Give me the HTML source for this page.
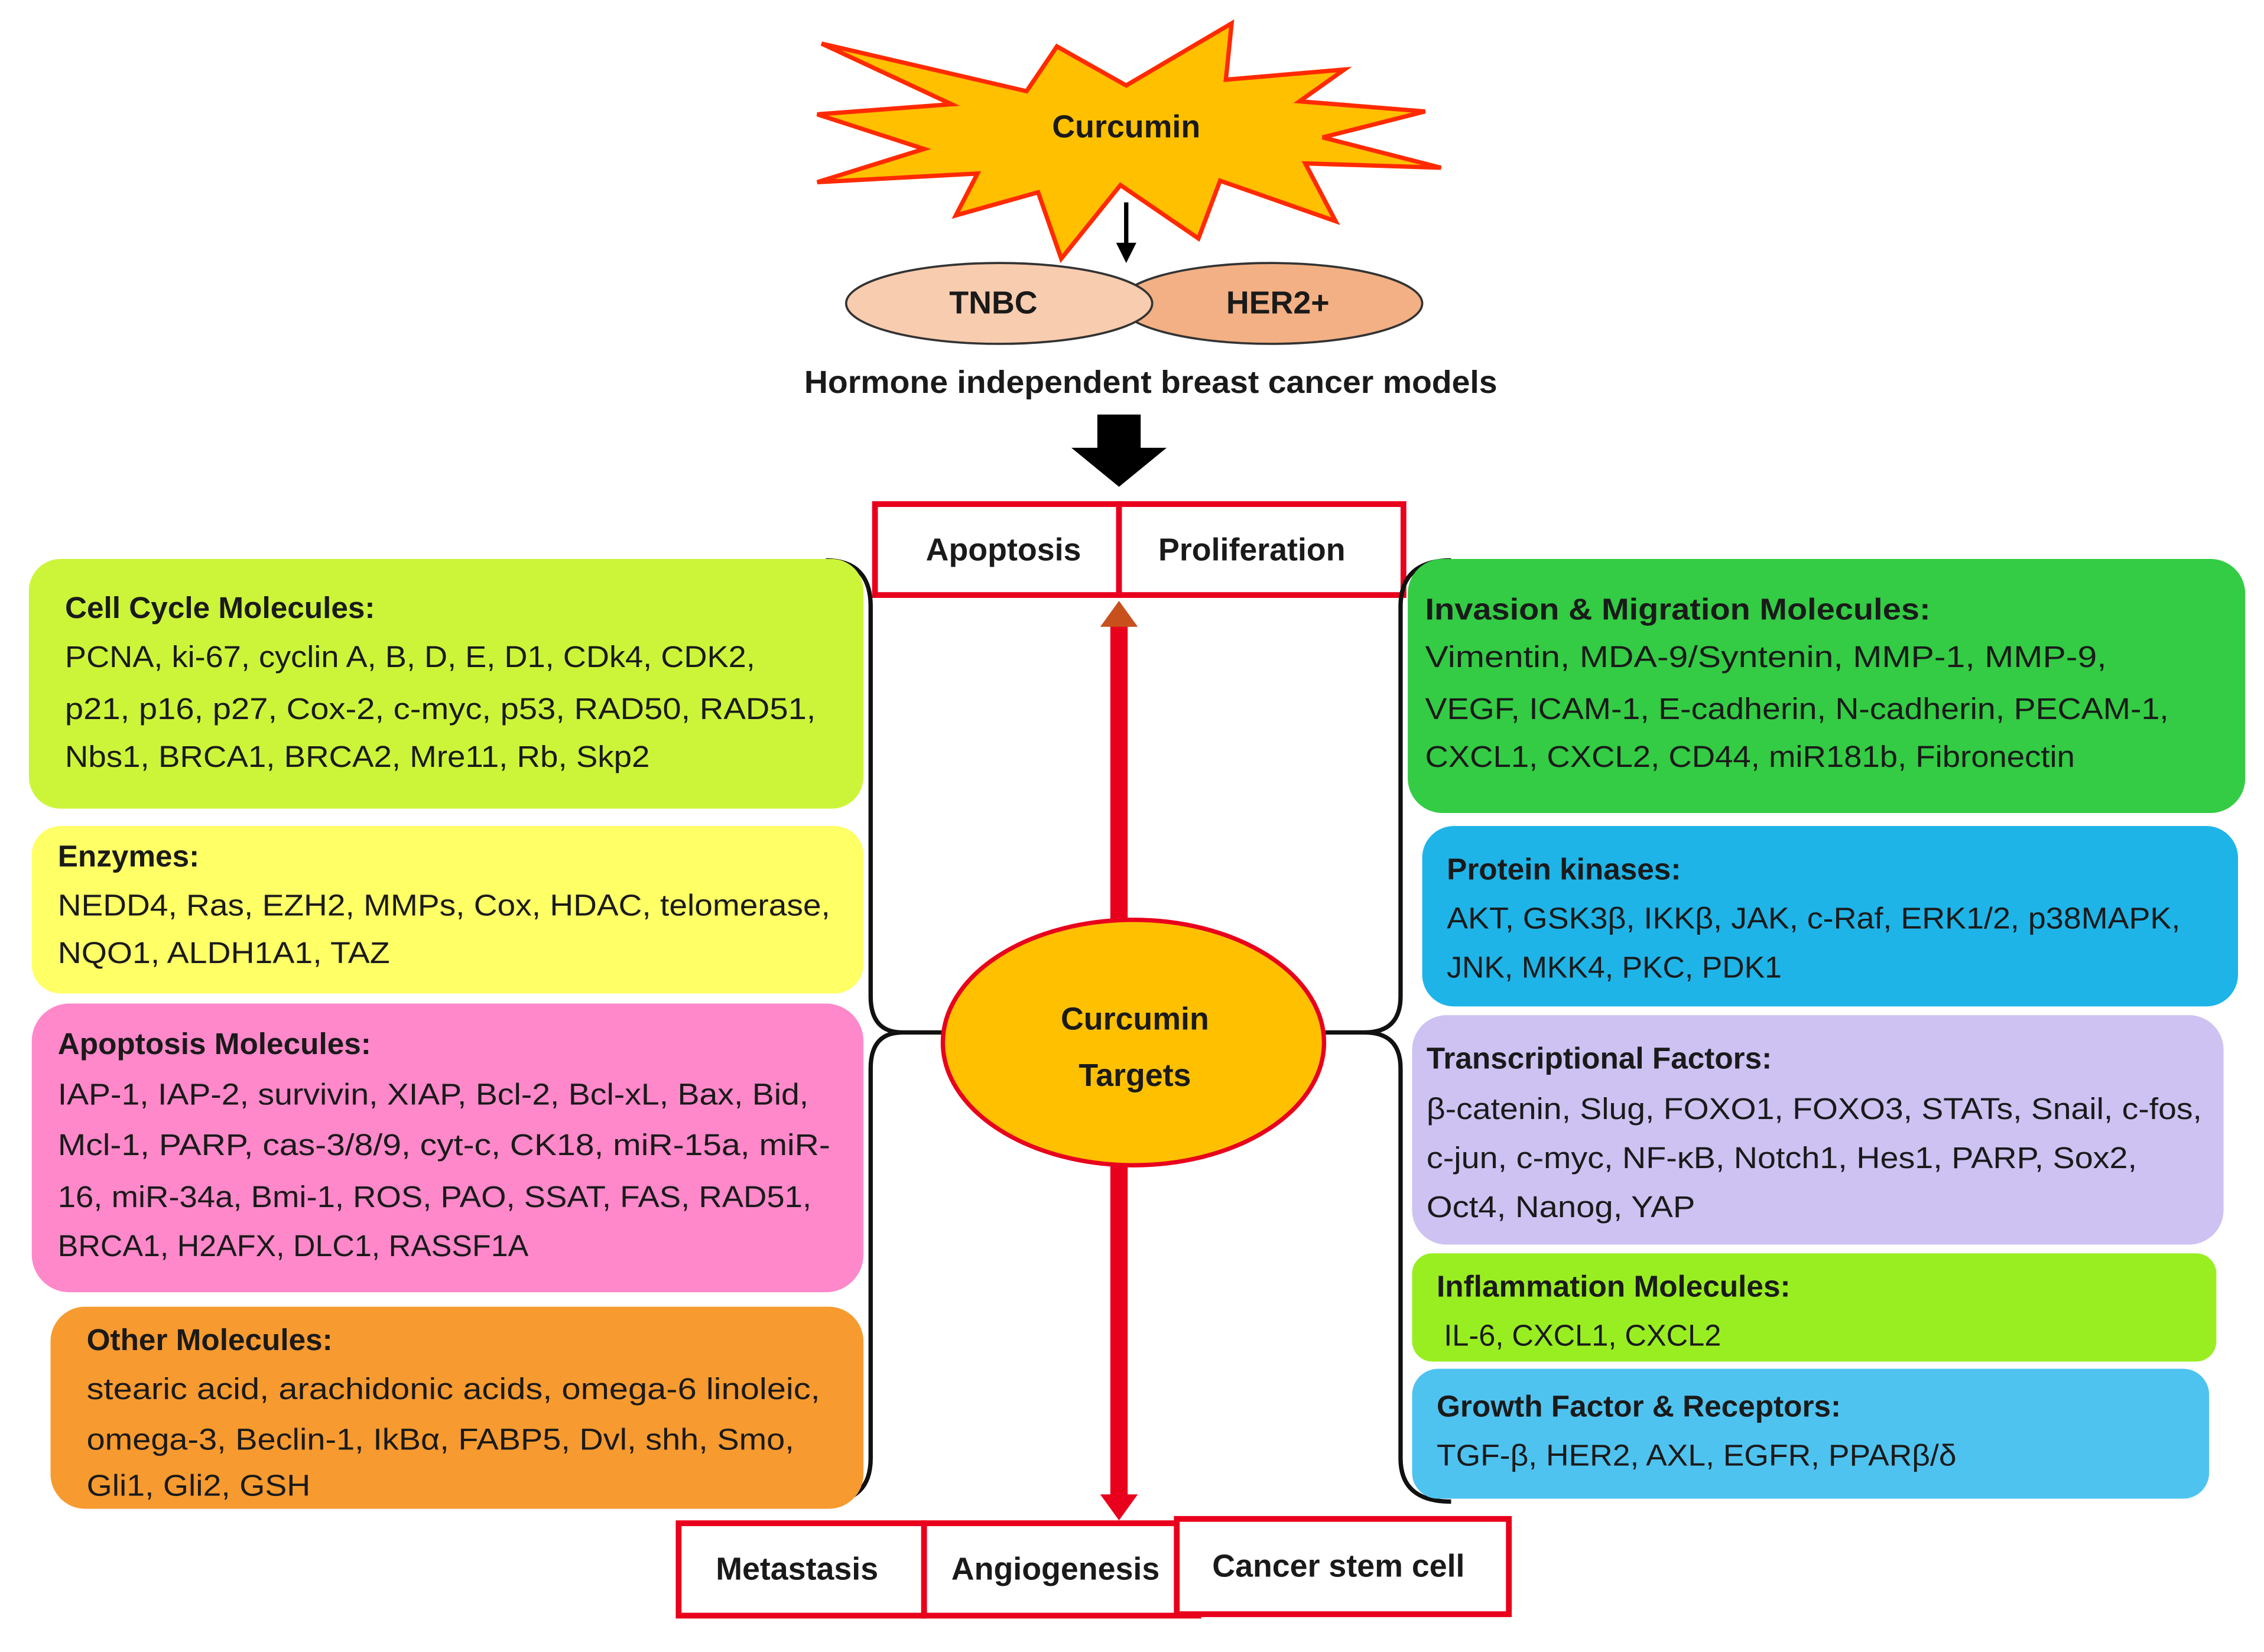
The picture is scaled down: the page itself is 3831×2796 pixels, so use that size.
<!DOCTYPE html>
<html><head><meta charset="utf-8"><style>
html,body{margin:0;padding:0;background:#fff;}
svg{display:block;}
text{font-family:"Liberation Sans",sans-serif;fill:#1a1a1a;}
.h{font-weight:bold;font-size:21px;}
.b{font-size:21px;}
.c{font-weight:bold;font-size:22px;}
</style></head><body>
<svg width="3831" height="2796" viewBox="0 0 1568 1144" xmlns="http://www.w3.org/2000/svg">
<!-- star -->
<polygon points="569,30 711,63 732,32 780,59 853,16 849,55 931,48 900,70 987,77 916,95 998,116 904,113 925,153 845,125 830,165 776,128 735,179 719,133 662,149 677,120 566,126 640,103 566,79 659,72" fill="#FFC000" stroke="#FF2A00" stroke-width="3" stroke-linejoin="miter"/>
<text x="780" y="95" text-anchor="middle" class="c">Curcumin</text>
<line x1="780" y1="140" x2="780" y2="170" stroke="#000" stroke-width="3"/>
<polygon points="773,168 787,168 780,182" fill="#000"/>
<!-- ellipses -->
<ellipse cx="880" cy="210" rx="105" ry="28" fill="#F2B084" stroke="#333" stroke-width="1.5"/>
<ellipse cx="692" cy="210" rx="106" ry="28" fill="#F8CCAE" stroke="#333" stroke-width="1.5"/>
<text x="688" y="217" text-anchor="middle" class="c">TNBC</text>
<text x="885" y="217" text-anchor="middle" class="c">HER2+</text>
<text x="797" y="272" text-anchor="middle" class="c" textLength="480" lengthAdjust="spacingAndGlyphs">Hormone independent  breast cancer models</text>
<!-- black arrow -->
<polygon points="760,287 790,287 790,310 808,310 775,337 742,310 760,310" fill="#000"/>
<!-- top boxes -->
<rect x="606" y="349" width="169" height="63" fill="#fff" stroke="#E8001C" stroke-width="4"/>
<rect x="775" y="349" width="197" height="63" fill="#fff" stroke="#E8001C" stroke-width="4"/>
<text x="695" y="388" text-anchor="middle" class="c">Apoptosis</text>
<text x="867" y="388" text-anchor="middle" class="c">Proliferation</text>
<!-- brackets -->
<path d="M572,388 Q603,388 603,420 L603,690 Q603,715 625,715 L655,715 M625,715 Q603,715 603,740 L603,1010 Q603,1040 572,1040" fill="none" stroke="#111" stroke-width="3"/>
<path d="M1005,388 Q970,388 970,420 L970,690 Q970,715 945,715 L918,715 M945,715 Q970,715 970,740 L970,1010 Q970,1040 1005,1040" fill="none" stroke="#111" stroke-width="3"/>
<!-- red arrows -->
<rect x="769" y="432" width="12" height="205" fill="#E8001C"/>
<polygon points="762,434 788,434 775,416" fill="#C8501C"/>
<rect x="769" y="805" width="12" height="232" fill="#E8001C"/>
<polygon points="762,1035 788,1035 775,1053" fill="#E8001C"/>
<!-- center ellipse -->
<ellipse cx="785" cy="722" rx="132" ry="85" fill="#FFC000" stroke="#E8001C" stroke-width="3"/>
<text x="786" y="713" text-anchor="middle" class="c">Curcumin</text>
<text x="786" y="752" text-anchor="middle" class="c">Targets</text>
<!-- left boxes -->
<rect x="20" y="387" width="578" height="173" rx="22" fill="#CCF53A"/>
<text x="45" y="428" class="h">Cell Cycle Molecules:</text>
<text x="45" y="462" class="b" textLength="478" lengthAdjust="spacingAndGlyphs">PCNA, ki-67, cyclin A, B, D, E, D1, CDk4,  CDK2,</text>
<text x="45" y="498" class="b" textLength="520" lengthAdjust="spacingAndGlyphs">p21, p16, p27, Cox-2,  c-myc, p53, RAD50, RAD51,</text>
<text x="45" y="531" class="b" textLength="405" lengthAdjust="spacingAndGlyphs">Nbs1, BRCA1, BRCA2, Mre11,  Rb, Skp2</text>
<rect x="22" y="572" width="576" height="116" rx="20" fill="#FFFF66"/>
<text x="40" y="600" class="h">Enzymes:</text>
<text x="40" y="634" class="b" textLength="535" lengthAdjust="spacingAndGlyphs">NEDD4, Ras, EZH2, MMPs, Cox,  HDAC, telomerase,</text>
<text x="40" y="667" class="b" textLength="230" lengthAdjust="spacingAndGlyphs">NQO1, ALDH1A1, TAZ</text>
<rect x="22" y="695" width="576" height="200" rx="26" fill="#FF88CA"/>
<text x="40" y="730" class="h">Apoptosis  Molecules:</text>
<text x="40" y="765" class="b" textLength="520" lengthAdjust="spacingAndGlyphs">IAP-1, IAP-2, survivin, XIAP, Bcl-2, Bcl-xL, Bax, Bid,</text>
<text x="40" y="800" class="b" textLength="535" lengthAdjust="spacingAndGlyphs">Mcl-1, PARP, cas-3/8/9, cyt-c, CK18, miR-15a, miR-</text>
<text x="40" y="836" class="b" textLength="522" lengthAdjust="spacingAndGlyphs">16, miR-34a, Bmi-1, ROS, PAO, SSAT, FAS, RAD51,</text>
<text x="40" y="870" class="b" textLength="326" lengthAdjust="spacingAndGlyphs">BRCA1, H2AFX, DLC1, RASSF1A</text>
<rect x="35" y="905" width="563" height="140" rx="24" fill="#F79A30"/>
<text x="60" y="935" class="h">Other Molecules:</text>
<text x="60" y="969" class="b" textLength="508" lengthAdjust="spacingAndGlyphs">stearic acid, arachidonic acids, omega-6 linoleic,</text>
<text x="60" y="1004" class="b" textLength="490" lengthAdjust="spacingAndGlyphs">omega-3, Beclin-1, IkBα, FABP5, Dvl, shh, Smo,</text>
<text x="60" y="1036" class="b" textLength="155" lengthAdjust="spacingAndGlyphs">Gli1, Gli2, GSH</text>
<!-- right boxes -->
<rect x="975" y="387" width="580" height="176" rx="24" fill="#33CC44"/>
<text x="987" y="429" class="h" textLength="350" lengthAdjust="spacingAndGlyphs">Invasion &amp; Migration Molecules:</text>
<text x="987" y="462" class="b" textLength="472" lengthAdjust="spacingAndGlyphs">Vimentin, MDA-9/Syntenin, MMP-1, MMP-9,</text>
<text x="987" y="498" class="b" textLength="515" lengthAdjust="spacingAndGlyphs">VEGF, ICAM-1, E-cadherin, N-cadherin, PECAM-1,</text>
<text x="987" y="531" class="b" textLength="450" lengthAdjust="spacingAndGlyphs">CXCL1,  CXCL2, CD44,  miR181b, Fibronectin</text>
<rect x="985" y="572" width="565" height="125" rx="22" fill="#1EB4E8"/>
<text x="1002" y="609" class="h">Protein kinases:</text>
<text x="1002" y="643" class="b" textLength="508" lengthAdjust="spacingAndGlyphs">AKT,  GSK3β, IKKβ, JAK, c-Raf, ERK1/2, p38MAPK,</text>
<text x="1002" y="677" class="b" textLength="232" lengthAdjust="spacingAndGlyphs">JNK, MKK4,  PKC, PDK1</text>
<rect x="978" y="703" width="562" height="159" rx="24" fill="#CDC2F2"/>
<text x="988" y="740" class="h">Transcriptional  Factors:</text>
<text x="988" y="775" class="b" textLength="537" lengthAdjust="spacingAndGlyphs">β-catenin, Slug, FOXO1, FOXO3, STATs, Snail, c-fos,</text>
<text x="988" y="809" class="b" textLength="492" lengthAdjust="spacingAndGlyphs">c-jun, c-myc, NF-κB, Notch1, Hes1, PARP, Sox2,</text>
<text x="988" y="843" class="b" textLength="186" lengthAdjust="spacingAndGlyphs">Oct4, Nanog, YAP</text>
<rect x="978" y="868" width="557" height="75" rx="14" fill="#99EE22"/>
<text x="995" y="898" class="h">Inflammation Molecules:</text>
<text x="1000" y="932" class="b" textLength="192" lengthAdjust="spacingAndGlyphs">IL-6, CXCL1,  CXCL2</text>
<rect x="978" y="948" width="552" height="90" rx="18" fill="#4FC3F0"/>
<text x="995" y="981" class="h">Growth Factor &amp; Receptors:</text>
<text x="995" y="1015" class="b" textLength="360" lengthAdjust="spacingAndGlyphs">TGF-β, HER2, AXL, EGFR, PPARβ/δ</text>
<!-- bottom boxes -->
<rect x="470" y="1055" width="170" height="64" fill="#fff" stroke="#E8001C" stroke-width="4"/>
<rect x="640" y="1055" width="190" height="64" fill="#fff" stroke="#E8001C" stroke-width="4"/>
<rect x="815" y="1052" width="230" height="66" fill="#fff" stroke="#E8001C" stroke-width="4"/>
<text x="552" y="1094" text-anchor="middle" class="c">Metastasis</text>
<text x="731" y="1094" text-anchor="middle" class="c">Angiogenesis</text>
<text x="927" y="1092" text-anchor="middle" class="c">Cancer stem cell</text>
</svg>
</body></html>
